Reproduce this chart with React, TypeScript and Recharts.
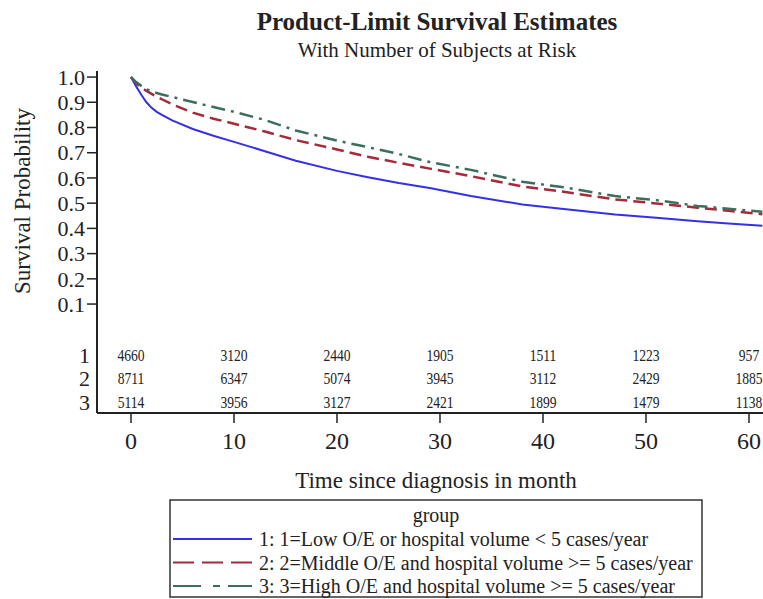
import React from 'react';
import { ComposedChart, Line, Scatter, XAxis, YAxis } from 'recharts';

// Kaplan-Meier estimates (months, survival probability)
const months = [0, 0.5, 1, 1.5, 2, 2.5, 3, 4, 6, 8, 10, 13, 16, 20, 23, 26, 29, 33, 38, 42, 47, 51, 55, 58, 61.3];
const lowSurvival = [1.0, 0.963, 0.93, 0.9, 0.878, 0.862, 0.85, 0.828, 0.794, 0.767, 0.743, 0.706, 0.668, 0.628, 0.603, 0.58, 0.56, 0.528, 0.495, 0.477, 0.455, 0.442, 0.428, 0.419, 0.41];
const middleSurvival = [1.0, 0.975, 0.958, 0.945, 0.933, 0.922, 0.912, 0.892, 0.859, 0.835, 0.815, 0.784, 0.75, 0.713, 0.684, 0.66, 0.637, 0.607, 0.566, 0.545, 0.515, 0.499, 0.482, 0.47, 0.456];
const highSurvival = [1.0, 0.98, 0.965, 0.952, 0.943, 0.937, 0.931, 0.921, 0.901, 0.881, 0.862, 0.83, 0.788, 0.748, 0.722, 0.695, 0.663, 0.632, 0.585, 0.563, 0.528, 0.512, 0.489, 0.478, 0.466];

// number of subjects at risk
const riskMonths = [0, 10, 20, 30, 40, 50, 60];
const riskLow = [4660, 3120, 2440, 1905, 1511, 1223, 957];
const riskMiddle = [8711, 6347, 5074, 3945, 3112, 2429, 1885];
const riskHigh = [5114, 3956, 3127, 2421, 1899, 1479, 1138];
const riskGroups = ['1', '2', '3'];
const riskRowLevels = [-0.102, -0.193, -0.289]; // table rows sit below 0 on the y scale

const xTicks = [0, 10, 20, 30, 40, 50, 60];
const yTicks = [0.1, 0.2, 0.3, 0.4, 0.5, 0.6, 0.7, 0.8, 0.9, 1.0];

const groupNames = [
  '1: 1=Low O/E or hospital volume < 5 cases/year',
  '2: 2=Middle O/E and hospital volume >= 5 cases/year',
  '3: 3=High O/E and hospital volume >= 5 cases/year',
];

const FONT = '"Liberation Serif", "Times New Roman", serif';
const INK = '#222';
const colors = ['#3430e8', '#a52a3a', '#3c6e5c'];
const plotDash = [undefined, '12 6', '14 6 3 6'];
const legendDash = [undefined, '21 8', '28 12 7 8'];

const toSeries = (vals: number[]) => months.map((t, i) => ({ t, s: vals[i] }));
const curves = [lowSurvival, middleSurvival, highSurvival].map(toSeries);
const riskRows = [riskLow, riskMiddle, riskHigh].map((counts, r) =>
  riskMonths.map((t, i) => ({ t, v: riskRowLevels[r], n: counts[i] }))
);

const YTick = (props: any) => {
  const { x, y, payload } = props;
  const row = riskRowLevels.indexOf(payload.value);
  if (row >= 0) {
    return (
      <text x={x + 5} y={y} dy="0.35em" textAnchor="end" fontSize={22} fontFamily={FONT} fill={INK}>
        {riskGroups[row]}
      </text>
    );
  }
  return (
    <g>
      <line x1={x + 2} x2={x + 12} y1={y} y2={y} stroke={INK} strokeWidth={1.5} />
      <text x={x} y={y} dy="0.35em" textAnchor="end" fontSize={22} fontFamily={FONT} fill={INK}>
        {Number(payload.value).toFixed(1)}
      </text>
    </g>
  );
};

// at-risk counts are set in a slightly condensed face, like the SAS output
const RiskCount = (props: any) => (
  <text
    transform={`translate(${props.cx},${props.cy}) scale(0.85,1)`}
    dy="0.35em"
    textAnchor="middle"
    fontSize={16}
    fontFamily={FONT}
    fill={INK}
  >
    {props.payload.n}
  </text>
);

export default function App() {
  return (
    <div style={{ position: 'absolute', left: 0, top: 0, width: 763, height: 599, background: '#fff' }}>
      <ComposedChart width={763} height={599} margin={{ top: 71, right: 0, bottom: 126, left: 37 }}>
        <XAxis
          dataKey="t"
          type="number"
          domain={[-3.3, 61.36]}
          allowDataOverflow
          ticks={xTicks}
          tickSize={10}
          tickMargin={9}
          height={60}
          axisLine={{ stroke: INK, strokeWidth: 2 }}
          tickLine={{ stroke: INK, strokeWidth: 1.5 }}
          tick={{ fontSize: 24, fontFamily: FONT, fill: INK }}
        />
        <XAxis
          xAxisId="top"
          orientation="top"
          dataKey="t"
          type="number"
          domain={[-3.3, 61.36]}
          allowDataOverflow
          height={0}
          tick={false}
          tickLine={false}
          axisLine={{ stroke: INK, strokeWidth: 2 }}
        />
        <YAxis
          type="number"
          domain={[-0.332, 1.024]}
          allowDataOverflow
          ticks={[...riskRowLevels, ...yTicks]}
          interval={0}
          width={60}
          tickSize={10}
          tickMargin={2}
          tickLine={false}
          axisLine={{ stroke: INK, strokeWidth: 2 }}
          tick={<YTick />}
        />
        {curves.map((data, i) => (
          <Line
            key={i}
            data={data}
            dataKey="s"
            type="linear"
            stroke={colors[i]}
            strokeWidth={i === 0 ? 2 : 2.5}
            strokeDasharray={plotDash[i]}
            dot={false}
            activeDot={false}
            isAnimationActive={false}
          />
        ))}
        {riskRows.map((data, i) => (
          <Scatter
            key={'r' + i}
            data={data}
            dataKey="v"
            shape={<RiskCount />}
            legendType="none"
            isAnimationActive={false}
          />
        ))}
      </ComposedChart>
      <svg
        width={763}
        height={599}
        style={{ position: 'absolute', left: 0, top: 0, pointerEvents: 'none' }}
        fontFamily={FONT}
        fill={INK}
      >
        <text x={437} y={30} textAnchor="middle" fontSize={25} fontWeight="bold">
          Product-Limit Survival Estimates
        </text>
        <text x={437} y={57} textAnchor="middle" fontSize={21}>
          With Number of Subjects at Risk
        </text>
        <text transform="translate(30,201) rotate(-90)" textAnchor="middle" fontSize={23}>
          Survival Probability
        </text>
        <text x={436} y={488} textAnchor="middle" fontSize={23}>
          Time since diagnosis in month
        </text>
        <rect x={170} y={500} width={532} height={97} fill="none" stroke="#333" strokeWidth={1.5} />
        <text x={436} y={522} textAnchor="middle" fontSize={20}>
          group
        </text>
        {groupNames.map((name, i) => (
          <g key={name}>
            <line
              x1={173}
              x2={252}
              y1={539 + i * 23.5}
              y2={539 + i * 23.5}
              stroke={colors[i]}
              strokeWidth={2}
              strokeDasharray={legendDash[i]}
            />
            <text x={259} y={539 + i * 23.5} dy="0.35em" fontSize={20}>
              {name}
            </text>
          </g>
        ))}
      </svg>
    </div>
  );
}
